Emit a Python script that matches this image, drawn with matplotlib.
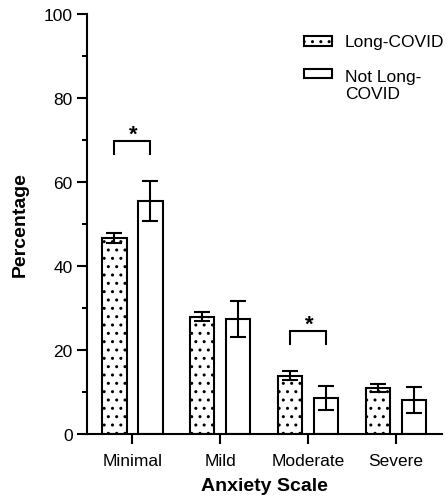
import numpy as np
import matplotlib
matplotlib.use("Agg")
import matplotlib.pyplot as plt
import matplotlib.patches as mpatches

plt.rcParams['font.family'] = ['Liberation Sans', 'DejaVu Sans']
plt.rcParams['hatch.linewidth'] = 1.0

# data
categories = ["Minimal", "Mild", "Moderate", "Severe"]
series = ["Long-COVID", "Not Long-\nCOVID"]
long_covid = [46.6, 27.9, 13.9, 10.9]
long_covid_err = [1.2, 1.1, 1.0, 0.9]
not_long_covid = [55.5, 27.4, 8.6, 8.0]
not_long_covid_err = [4.7, 4.3, 2.9, 3.1]
significant = [True, False, True, False]

fig = plt.figure(figsize=(4.48, 5.02), dpi=100)
ax = fig.add_axes([0.1935, 0.1335, 0.792, 0.837])

x = np.arange(len(categories))
off = 0.205
w = 0.28
lw = 1.5

ax.bar(x - off, long_covid, w, facecolor="white", edgecolor="black",
       linewidth=lw, hatch="..", zorder=2)
ax.bar(x + off, not_long_covid, w, facecolor="white", edgecolor="black",
       linewidth=lw, zorder=2)
ax.errorbar(x - off, long_covid, yerr=long_covid_err, fmt="none", ecolor="black",
            elinewidth=lw, capsize=5.5, capthick=lw, zorder=3)
ax.errorbar(x + off, not_long_covid, yerr=not_long_covid_err, fmt="none", ecolor="black",
            elinewidth=lw, capsize=5.5, capthick=lw, zorder=3)

# significance brackets
for i, s in enumerate(significant):
    if not s:
        continue
    top = max(long_covid[i] + long_covid_err[i], not_long_covid[i] + not_long_covid_err[i])
    y0 = top + 6.5
    y1 = top + 9.5
    ax.plot([i - off, i - off, i + off, i + off], [y0, y1, y1, y0],
            color="black", lw=lw, solid_joinstyle="miter", zorder=3)
    ax.text(i + 0.01, y1 + 0.3, "*", ha="center", va="baseline",
            fontsize=16, fontweight="bold")

ax.set_xlim(-0.52, 3.52)
ax.set_ylim(0, 100)
ax.set_yticks([0, 20, 40, 60, 80, 100])
ax.set_yticks(np.arange(10, 100, 20), minor=True)
ax.set_xticks(x)
ax.set_xticklabels(categories)

for sp in ["top", "right"]:
    ax.spines[sp].set_visible(False)
for sp in ["left", "bottom"]:
    ax.spines[sp].set_linewidth(lw)
ax.tick_params(axis="both", which="major", length=7, width=lw, labelsize=12.5, pad=3)
ax.tick_params(axis="x", which="major", pad=7)
ax.tick_params(axis="y", which="minor", length=3.5, width=lw)

ax.set_ylabel("Percentage", fontsize=14, fontweight="bold", labelpad=11)
ax.set_xlabel("Anxiety Scale", fontsize=14, fontweight="bold", labelpad=6)

# legend drawn by hand so the handle sits on the first line of a wrapped label
handles_y = [0.907, 0.842]
hatches = ["..", None]
for hy, h in zip(handles_y, hatches):
    fig.add_artist(mpatches.Rectangle((0.6786, hy), 0.0625, 0.0187,
                                      transform=fig.transFigure, facecolor="white",
                                      edgecolor="black", linewidth=lw, hatch=h))
fig.text(0.770, 0.916, series[0], fontsize=12.5, va="center", ha="left")
fig.text(0.770, 0.8290, series[1], fontsize=12.5, va="center", ha="left", linespacing=1.22)

fig.savefig("out.png", dpi=100)
